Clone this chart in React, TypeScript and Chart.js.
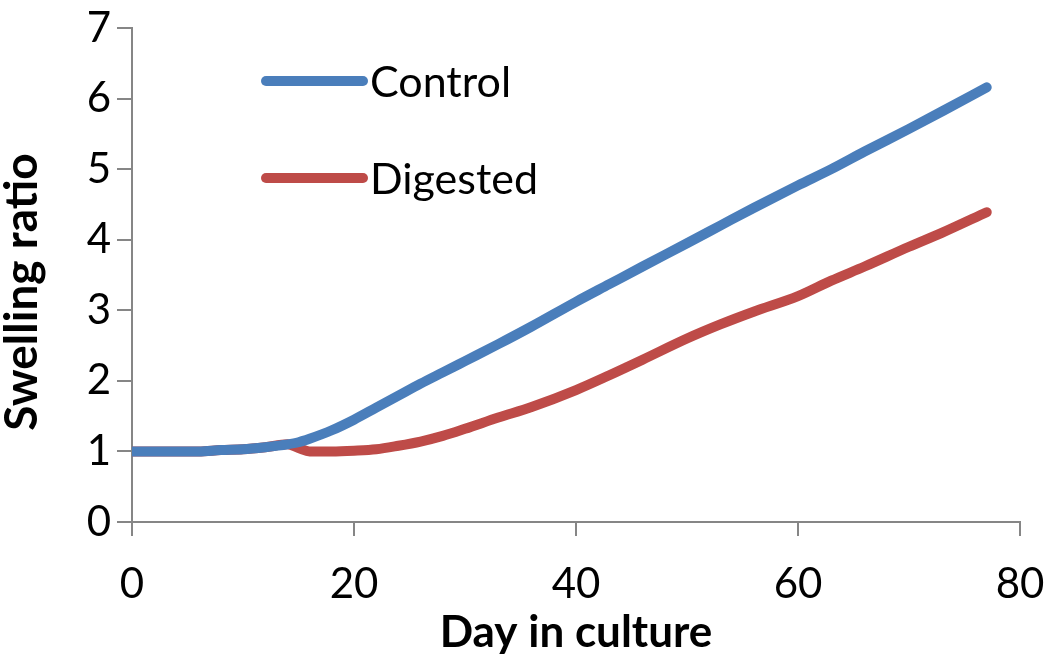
import React, { useEffect, useRef } from "react";
import { Chart, registerables } from "chart.js";

Chart.register(...registerables);

const days = [0, 2, 4, 6, 8, 10, 12, 14, 15, 16, 18, 20, 22, 24, 26, 28, 30, 33, 36, 40, 43, 46, 50, 53, 56, 60, 63, 66, 70, 73, 77];
const control = [1.0, 1.0, 1.0, 1.0, 1.02, 1.03, 1.06, 1.1, 1.13, 1.18, 1.3, 1.45, 1.62, 1.79, 1.96, 2.12, 2.28, 2.52, 2.77, 3.12, 3.37, 3.62, 3.95, 4.2, 4.45, 4.77, 5.0, 5.25, 5.57, 5.82, 6.16];
const digested = [1.0, 1.0, 1.0, 1.0, 1.02, 1.03, 1.06, 1.1, 1.05, 1.0, 1.0, 1.01, 1.03, 1.08, 1.14, 1.22, 1.32, 1.48, 1.63, 1.87, 2.08, 2.3, 2.6, 2.8, 2.98, 3.2, 3.42, 3.62, 3.9, 4.1, 4.39];
const seriesNames = ["Control", "Digested"];
const seriesColors = ["#4a7ebb", "#be4b48"];
const xTicks = [0, 20, 40, 60, 80];
const yTicks = [0, 1, 2, 3, 4, 5, 6, 7];
const xTitle = "Day in culture";
const yTitle = "Swelling ratio";

const FONT = "Lato, 'Open Sans', sans-serif";
const AXIS = "#868686";

const overlayPlugin = {
  id: "overlay",
  afterDraw(chart: any) {
    const ctx = chart.ctx;
    const items = [
      { name: seriesNames[0], color: seriesColors[0], y: 81 },
      { name: seriesNames[1], color: seriesColors[1], y: 178 },
    ];
    ctx.save();
    items.forEach((it) => {
      ctx.strokeStyle = it.color;
      ctx.lineWidth = 10;
      ctx.lineCap = "round";
      ctx.beginPath();
      ctx.moveTo(266, it.y);
      ctx.lineTo(363, it.y);
      ctx.stroke();
      ctx.fillStyle = "#000";
      ctx.font = `43px ${FONT}`;
      ctx.textBaseline = "middle";
      ctx.textAlign = "left";
      ctx.fillText(it.name, 370, it.y + 2);
    });
    // axis titles
    const area = chart.chartArea;
    ctx.fillStyle = "#000";
    ctx.font = `bold 44px ${FONT}`;
    ctx.textAlign = "center";
    ctx.textBaseline = "alphabetic";
    ctx.fillText(xTitle, (area.left + area.right) / 2, 647);
    ctx.translate(37, 292);
    ctx.rotate(-Math.PI / 2);
    ctx.font = `bold 46px ${FONT}`;
    ctx.fillText(yTitle, 0, 0);
    ctx.restore();
  },
};

export default function App() {
  const ref = useRef<HTMLCanvasElement | null>(null);
  useEffect(() => {
    if (!ref.current) return;
    const mk = (vals: number[]) => days.map((d, i) => ({ x: d, y: vals[i] }));
    const ds = (i: number, vals: number[]) => ({
      label: seriesNames[i],
      data: mk(vals),
      borderColor: seriesColors[i],
      borderWidth: 10,
      pointRadius: 0,
      cubicInterpolationMode: "monotone",
      borderCapStyle: "round",
      borderJoinStyle: "round",
    });
    const chart = new Chart(ref.current, {
      type: "line",
      data: { datasets: [ds(0, control), ds(1, digested)] },
      options: {
        animation: false,
        responsive: true,
        maintainAspectRatio: false,
        layout: { padding: { top: 28, right: 30, left: 0, bottom: 0 } },
        plugins: { legend: { display: false }, tooltip: { enabled: false } },
        scales: {
          x: {
            type: "linear",
            min: 0,
            max: 80,
            afterFit: (s: any) => {
              s.height = 145;
              s.paddingLeft = 0;
              s.paddingRight = 0;
            },
            afterBuildTicks: (s: any) => {
              s.ticks = xTicks.map((v) => ({ value: v }));
            },
            border: { color: AXIS, width: 2 },
            grid: { drawOnChartArea: false, drawTicks: true, tickLength: 14, color: AXIS, lineWidth: 2 },
            ticks: { font: { family: FONT, size: 42 }, color: "#000", padding: 23, maxRotation: 0 },
            title: { display: false },
          },
          y: {
            type: "linear",
            min: 0,
            max: 7,
            afterFit: (s: any) => {
              s.width = 132;
              s.paddingTop = 0;
              s.paddingBottom = 0;
            },
            afterBuildTicks: (s: any) => {
              s.ticks = yTicks.map((v) => ({ value: v }));
            },
            border: { color: AXIS, width: 2 },
            grid: { drawOnChartArea: false, drawTicks: true, tickLength: 15, color: AXIS, lineWidth: 2 },
            ticks: { font: { family: FONT, size: 42 }, color: "#000", padding: 6 },
            title: { display: false },
          },
        },
      },
      plugins: [overlayPlugin],
    } as any);
    return () => chart.destroy();
  }, []);
  return (
    <div style={{ position: "fixed", left: 0, top: 0, width: 1050, height: 667, background: "#fff" }}>
      <canvas ref={ref} />
    </div>
  );
}
